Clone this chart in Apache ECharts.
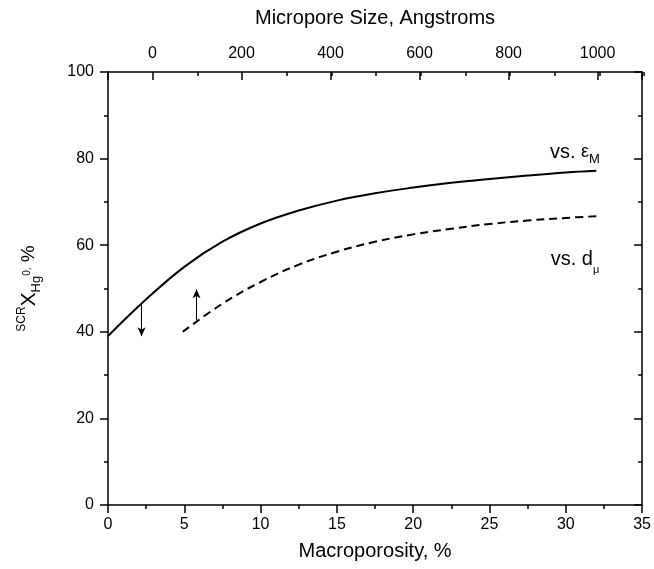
<!DOCTYPE html>
<html>
<head>
<meta charset="utf-8">
<script src="https://cdn.jsdelivr.net/npm/echarts@6/dist/echarts.min.js"></script>
<style>
  html, body { margin: 0; padding: 0; background: #fff; }
  #chart { width: 654px; height: 569px; }
</style>
</head>
<body>
<div id="chart"></div>
<script>
// Capture efficiency vs. macroporosity (solid) and vs. micropore size (dashed)
const solidX = [0, 2.5, 5, 7.5, 10, 12.5, 15, 17.5, 20, 22.5, 25, 27.5, 30, 32];
const solidY = [39, 47.5, 55, 60.8, 65, 68, 70.3, 72, 73.3, 74.4, 75.3, 76.1, 76.8, 77.2];
const dashX = [4.9, 7.5, 10, 12.5, 15, 17.5, 20, 22.5, 25, 27.5, 30, 32];
const dashY = [40, 46.5, 51.5, 55.5, 58.5, 60.8, 62.5, 63.8, 64.9, 65.7, 66.3, 66.7];

// arrows pointing from each curve to its own axis
const arrowSolid = { x: 2.2, from: 46.6, to: 39 };
const arrowDash = { x: 5.8, from: 42.6, to: 49.8 };

// curve labels (data coordinates of the label centres)
const labelSolid = { x: 30.6, y: 81.5 };
const labelDash = { x: 30.6, y: 56.8 };

const bottomTicks = { min: 0, max: 35, step: 5 };
const topTicks = { min: -100, max: 1100, step: 200, minorStep: 100 };
const leftTicks = { min: 0, max: 100, step: 20 };

const FONT = 'Liberation Sans, Arial, sans-serif';
const zip = (xs, ys) => xs.map((x, i) => [x, ys[i]]);

const chart = echarts.init(document.getElementById('chart'), null, { renderer: 'canvas' });

const axisLine = { show: true, onZero: false, lineStyle: { color: '#000', width: 1.5 } };
const tickStyle = { color: '#000', width: 1.5 };
const gridBox = { left: 108, right: 10, top: 72, bottom: 64 };

chart.setOption({
  animation: false,
  backgroundColor: '#fff',
  textStyle: { fontFamily: FONT },
  grid: [
    Object.assign({ containLabel: false }, gridBox),
    Object.assign({ containLabel: false }, gridBox)
  ],
  xAxis: [
    {
      type: 'value', gridIndex: 0, position: 'bottom',
      min: bottomTicks.min, max: bottomTicks.max, interval: bottomTicks.step,
      name: 'Macroporosity, %', nameLocation: 'middle', nameGap: 36,
      nameTextStyle: { fontSize: 20, color: '#000', fontFamily: FONT },
      axisLine: axisLine,
      axisTick: { show: true, inside: false, length: 8, lineStyle: tickStyle },
      minorTick: { show: true, splitNumber: 2, length: 4, lineStyle: tickStyle },
      axisLabel: { color: '#000', fontSize: 16, margin: 12, fontFamily: FONT },
      splitLine: { show: false }
    },
    {
      type: 'value', gridIndex: 0, position: 'top',
      min: topTicks.min, max: topTicks.max, splitNumber: 6,
      name: 'Micropore Size, Angstroms', nameLocation: 'middle', nameGap: 44,
      nameTextStyle: { fontSize: 20, color: '#000', fontFamily: FONT },
      axisLine: axisLine,
      axisTick: { show: true, inside: true, length: 8, lineStyle: tickStyle },
      axisLabel: {
        color: '#000', fontSize: 16, margin: 10, fontFamily: FONT,
        formatter: v => (v < 0 || v > 1000) ? '' : String(v)
      },
      splitLine: { show: false }
    },
    {
      type: 'value', gridIndex: 1, position: 'top',
      min: topTicks.min, max: topTicks.max, interval: topTicks.minorStep,
      axisLine: { show: false, onZero: false },
      axisTick: { show: true, inside: true, length: 4, lineStyle: tickStyle },
      axisLabel: { show: false },
      splitLine: { show: false }
    }
  ],
  yAxis: [
    {
      type: 'value', gridIndex: 0, position: 'left',
      min: leftTicks.min, max: leftTicks.max, interval: leftTicks.step,
      name: '{sup|SCR}{x|X}{sub|Hg}{sup2|0,}{p| %}',
      nameLocation: 'middle', nameGap: 64, nameRotate: 90,
      nameTextStyle: {
        color: '#000', fontFamily: FONT,
        rich: {
          sup: { fontSize: 12, lineHeight: 30, verticalAlign: 'top', fontFamily: FONT, padding: [2, 0, 0, 0] },
          x: { fontSize: 21, lineHeight: 30, verticalAlign: 'middle', fontFamily: FONT },
          sub: { fontSize: 13, lineHeight: 30, verticalAlign: 'bottom', fontFamily: FONT, padding: [0, 0, 1, 0] },
          sup2: { fontSize: 10, lineHeight: 30, verticalAlign: 'middle', fontFamily: FONT, padding: [0, 0, 4, 0] },
          p: { fontSize: 19, lineHeight: 30, verticalAlign: 'middle', fontFamily: FONT }
        }
      },
      axisLine: axisLine,
      axisTick: { show: true, inside: false, length: 8, lineStyle: tickStyle },
      minorTick: { show: true, splitNumber: 2, length: 4, lineStyle: tickStyle },
      axisLabel: { color: '#000', fontSize: 16, margin: 14, fontFamily: FONT },
      splitLine: { show: false }
    },
    {
      type: 'value', gridIndex: 0, position: 'right',
      min: leftTicks.min, max: leftTicks.max, interval: leftTicks.step,
      axisLine: axisLine,
      axisTick: { show: true, inside: true, length: 8, lineStyle: tickStyle },
      minorTick: { show: true, splitNumber: 2, length: 4, lineStyle: tickStyle },
      axisLabel: { show: false },
      splitLine: { show: false }
    },
    {
      type: 'value', gridIndex: 1, show: false,
      min: leftTicks.min, max: leftTicks.max,
      axisLine: { show: false, onZero: false }
    }
  ],
  series: [
    {
      name: 'vs. εM', type: 'line', xAxisIndex: 0, yAxisIndex: 0,
      data: zip(solidX, solidY), smooth: 0.4, showSymbol: false, silent: true,
      lineStyle: { color: '#000', width: 2 },
      markLine: {
        silent: true, symbol: ['none', 'arrow'], symbolSize: [6, 9],
        label: { show: false },
        lineStyle: { color: '#000', width: 1, type: 'solid' },
        data: [[{ coord: [arrowSolid.x, arrowSolid.from] }, { coord: [arrowSolid.x, arrowSolid.to] }]]
      },
      markPoint: {
        silent: true, symbol: 'circle', symbolSize: 0,
        data: [{ coord: [labelSolid.x, labelSolid.y] }],
        label: {
          show: true, position: 'inside', color: '#000',
          formatter: '{a|vs. }{e|ε}{s|M}',
          rich: {
            a: { fontSize: 20, lineHeight: 28, verticalAlign: 'middle', fontFamily: FONT },
            e: { fontSize: 18, lineHeight: 28, verticalAlign: 'middle', fontFamily: FONT },
            s: { fontSize: 13, lineHeight: 28, verticalAlign: 'bottom', fontFamily: FONT }
          }
        }
      }
    },
    {
      name: 'vs. dμ', type: 'line', xAxisIndex: 0, yAxisIndex: 0,
      data: zip(dashX, dashY), smooth: 0.4, showSymbol: false, silent: true,
      lineStyle: { color: '#000', width: 2, type: [8, 5] },
      markLine: {
        silent: true, symbol: ['none', 'arrow'], symbolSize: [6, 9],
        label: { show: false },
        lineStyle: { color: '#000', width: 1, type: 'solid' },
        data: [[{ coord: [arrowDash.x, arrowDash.from] }, { coord: [arrowDash.x, arrowDash.to] }]]
      },
      markPoint: {
        silent: true, symbol: 'circle', symbolSize: 0,
        data: [{ coord: [labelDash.x, labelDash.y] }],
        label: {
          show: true, position: 'inside', color: '#000',
          formatter: '{a|vs. d}{s|μ}',
          rich: {
            a: { fontSize: 20, lineHeight: 32, verticalAlign: 'middle', fontFamily: FONT },
            s: { fontSize: 11, lineHeight: 32, verticalAlign: 'bottom', fontFamily: FONT }
          }
        }
      }
    }
  ]
});
</script>
</body>
</html>
